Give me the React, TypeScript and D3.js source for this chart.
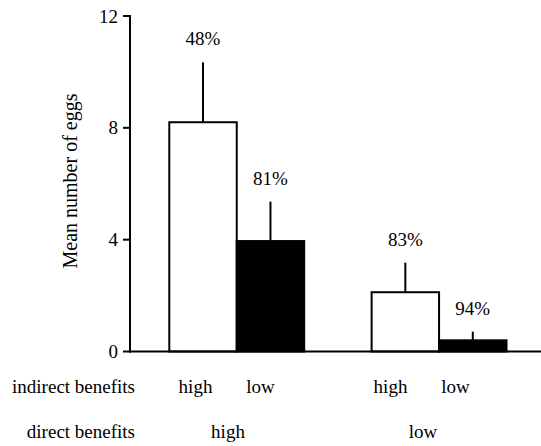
import React from 'react';
import * as d3 from 'd3';

// bars in drawing order; "gap" is an empty slot between the two direct-benefit groups
const slots = ['hh', 'hl', 'gap', 'lh', 'll'];
const barKeys = ['hh', 'hl', 'lh', 'll'];
const means = [8.2, 3.95, 2.12, 0.4];
const errors = [2.14, 1.41, 1.06, 0.31];
const percents = ['48%', '81%', '83%', '94%'];
const fills = ['white', 'black', 'white', 'black'];
const indirectLabels = ['high', 'low', 'high', 'low'];
const directLabels = ['high', 'low'];
const yTicks = [0, 4, 8, 12];

const settings = {
  width: 541,
  height: 446,
  axisX: 130,
  top: 16,
  base: 351.5,
  fontSize: 19
};

const txt = { fontFamily: "'Liberation Serif'" };

export default function App() {
  const { width, height, axisX, top, base, fontSize } = settings;

  const y = d3.scaleLinear().domain([0, 12]).range([base, top]);
  const x = d3.scaleBand().domain(slots).range([169.3, 506.5]).padding(0);
  // the category labels sit a little left of the bars in the original
  const xLabel = d3.scaleBand().domain(slots).range([163, 488]).padding(0);

  const groupCenter = (a: string, b: string) =>
    ((xLabel(a) as number) + (xLabel(b) as number) + xLabel.bandwidth()) / 2;

  const T = (props: any) => <text fontSize={fontSize} style={txt} {...props} />;

  return (
    <svg
      width={width}
      height={height}
      style={{ position: 'absolute', left: 0, top: 0, background: 'white' }}
    >
      {/* bars */}
      {barKeys.map((k, i) => {
        const x0 = x(k) as number;
        const cx = x0 + x.bandwidth() / 2;
        const errTop = y(means[i] + errors[i]);
        return (
          <g key={k}>
            <line x1={cx} x2={cx} y1={y(means[i])} y2={errTop} stroke="black" strokeWidth={2} />
            <rect
              x={x0}
              y={y(means[i])}
              width={x.bandwidth()}
              height={base - y(means[i])}
              fill={fills[i]}
              stroke="black"
              strokeWidth={2}
            />
            <T x={cx} y={errTop - 17} textAnchor="middle">{percents[i]}</T>
          </g>
        );
      })}

      {/* y axis */}
      <line x1={axisX} x2={axisX} y1={top - 1} y2={base + 1} stroke="black" strokeWidth={2} />
      {yTicks.map(t => (
        <g key={t}>
          <line x1={axisX - 7} x2={axisX} y1={y(t)} y2={y(t)} stroke="black" strokeWidth={2} />
          <T x={axisX - 12} y={y(t) + 6.5} textAnchor="end">{t}</T>
        </g>
      ))}
      {/* x axis */}
      <line x1={axisX - 1} x2={width} y1={base} y2={base} stroke="black" strokeWidth={2} />

      <T transform="translate(77, 181) rotate(-90)" textAnchor="middle" fontSize={20}>
        Mean number of eggs
      </T>

      {/* category rows */}
      <T x={135} y={393} textAnchor="end">indirect benefits</T>
      {barKeys.map((k, i) => (
        <T key={k} x={(xLabel(k) as number) + xLabel.bandwidth() / 2} y={393} textAnchor="middle">
          {indirectLabels[i]}
        </T>
      ))}
      <T x={135} y={438} textAnchor="end">direct benefits</T>
      <T x={groupCenter('hh', 'hl')} y={438} textAnchor="middle">{directLabels[0]}</T>
      <T x={groupCenter('lh', 'll')} y={438} textAnchor="middle">{directLabels[1]}</T>
    </svg>
  );
}
